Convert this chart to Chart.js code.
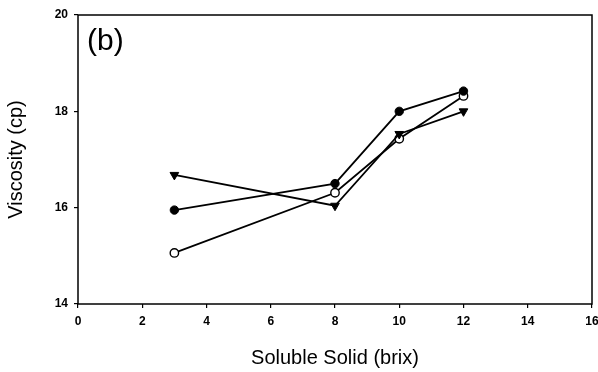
<!DOCTYPE html>
<html>
<head>
<meta charset="utf-8">
<script src="https://cdn.jsdelivr.net/npm/chart.js@4"></script>
<style>
  html, body { margin: 0; padding: 0; background: #fff; }
  #wrap { width: 598px; height: 372px; }
</style>
</head>
<body>
<div id="wrap"><canvas id="myChart" width="598" height="372"></canvas></div>
<script>
// soluble solid (brix) on x, viscosity (cp) on y
var brix = [3, 8, 10, 12];
var filledValues = [15.95, 16.5, 18.0, 18.42];
var triangleValues = [16.68, 16.04, 17.53, 18.0];
var openValues = [15.06, 16.31, 17.43, 18.32];
var xTicks = [0, 2, 4, 6, 8, 10, 12, 14, 16];
var yTicks = [14, 16, 18, 20];

var font = "'Liberation Sans', Arial, sans-serif";

function toPoints(values) {
    return brix.map(function(b, i) { return {x: b, y: values[i]}; });
}

// frame round the plot area + the "(b)" label
var framePlugin = {
    id: "frame",
    afterDraw: function(chart) {
        var ctx = chart.ctx;
        var a = chart.chartArea;
        ctx.save();
        ctx.strokeStyle = "#000";
        ctx.lineWidth = 1.5;
        ctx.strokeRect(a.left, a.top, a.right - a.left, a.bottom - a.top);
        ctx.fillStyle = "#000";
        ctx.font = "30px " + font;
        ctx.textBaseline = "alphabetic";
        ctx.fillText("(b)", a.left + 9, a.top + 35);
        ctx.restore();
    }
};

new Chart("myChart", {
    type: "line",
    data: {
        datasets: [
            {
                data: toPoints(triangleValues),
                borderColor: "#000",
                backgroundColor: "#000",
                borderWidth: 1.8,
                pointStyle: "triangle",
                rotation: 180,
                pointRadius: 5,
                pointBorderWidth: 1
            },
            {
                data: toPoints(filledValues),
                borderColor: "#000",
                backgroundColor: "#000",
                borderWidth: 1.8,
                pointStyle: "circle",
                pointRadius: 4.2,
                pointBorderWidth: 1
            },
            {
                data: toPoints(openValues),
                borderColor: "#000",
                backgroundColor: "#fff",
                borderWidth: 1.8,
                pointStyle: "circle",
                pointRadius: 4.2,
                pointBorderWidth: 1.4
            }
        ]
    },
    options: {
        responsive: false,
        animation: false,
        layout: {padding: {top: 15, right: 6, left: 0, bottom: 2}},
        plugins: {
            legend: {display: false},
            tooltip: {enabled: false}
        },
        scales: {
            x: {
                type: "linear",
                min: 0,
                max: 16,
                afterBuildTicks: function(scale) {
                    scale.ticks = xTicks.map(function(v) { return {value: v}; });
                },
                afterFit: function(scale) {
                    scale.height = 66;
                    scale.paddingRight = 0;
                    scale.paddingLeft = 0;
                },
                grid: {drawOnChartArea: false, tickLength: 4, color: "#000", lineWidth: 1.2},
                border: {display: false},
                ticks: {color: "#000", font: {family: font, size: 12, weight: "bold"}, padding: 6, maxRotation: 0},
                title: {
                    display: true,
                    text: "Soluble Solid (brix)",
                    color: "#000",
                    font: {family: font, size: 20},
                    padding: {top: 12, bottom: 0}
                }
            },
            y: {
                min: 14,
                max: 20,
                afterBuildTicks: function(scale) {
                    scale.ticks = yTicks.map(function(v) { return {value: v}; });
                },
                afterFit: function(scale) { scale.width = 78; },
                grid: {drawOnChartArea: false, tickLength: 4, color: "#000", lineWidth: 1.2},
                border: {display: false},
                ticks: {color: "#000", font: {family: font, size: 12, weight: "bold"}, padding: 6},
                title: {
                    display: true,
                    text: "Viscosity (cp)",
                    color: "#000",
                    font: {family: font, size: 20},
                    padding: {top: 4, bottom: 0}
                }
            }
        }
    },
    plugins: [framePlugin]
});
</script>
</body>
</html>
